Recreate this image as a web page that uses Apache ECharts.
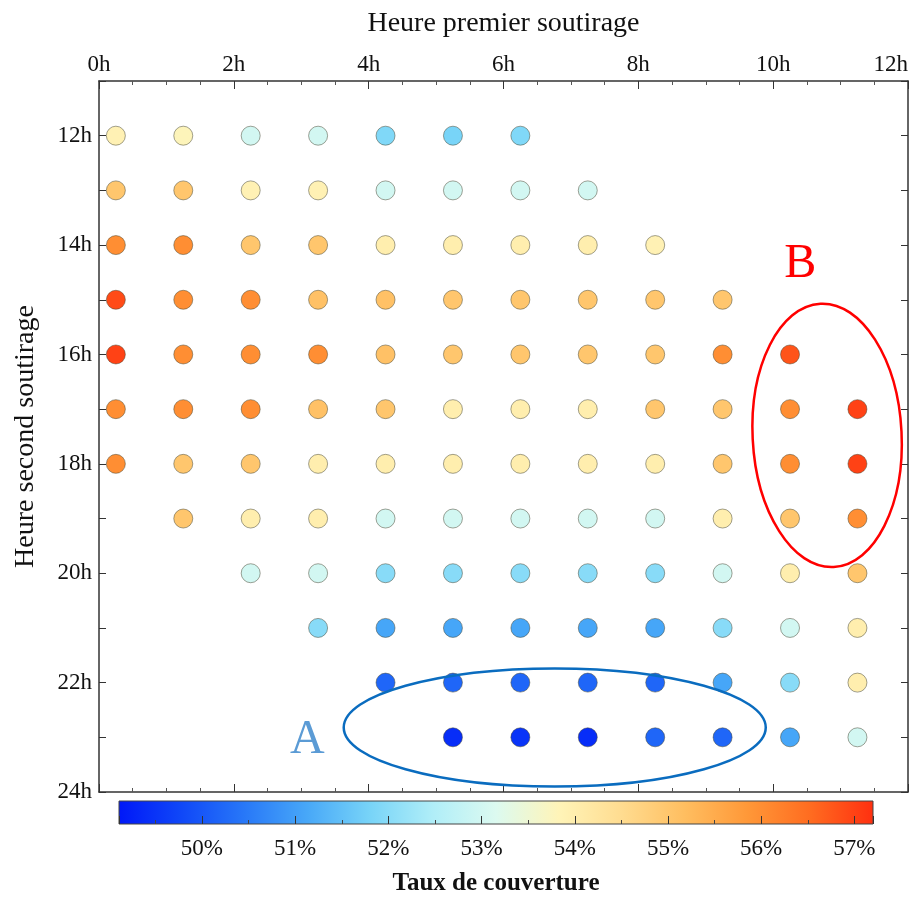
<!DOCTYPE html>
<html>
<head>
<meta charset="utf-8">
<script src="https://cdn.jsdelivr.net/npm/echarts@6/dist/echarts.min.js"></script>
<style>
html,body{margin:0;padding:0;background:#fff;}
#chart{width:919px;height:897px;}
</style>
</head>
<body>
<div id="chart"></div>
<script>
// ---- data ----
const firstHour = [0.25, 1.25, 2.25, 3.25, 4.25, 5.25, 6.25, 7.25, 8.25, 9.25, 10.25, 11.25];
const secondHour = [12, 13, 14, 15, 16, 17, 18, 19, 20, 21, 22, 23];
// coverage (%) per second-drawdown hour, one value per first-drawdown column (null = no point)
const cov12h = [53.9, 53.8, 53.0, 53.0, 51.9, 51.8, 51.9, null, null, null, null, null];
const cov13h = [55.0, 55.0, 53.9, 53.9, 53.0, 53.0, 53.0, 53.0, null, null, null, null];
const cov14h = [56.0, 56.0, 55.0, 55.0, 54.0, 54.0, 54.0, 54.0, 53.9, null, null, null];
const cov15h = [56.9, 56.0, 56.0, 55.1, 55.1, 55.0, 55.0, 55.0, 55.0, 55.0, null, null];
const cov16h = [57.0, 56.0, 56.0, 56.0, 55.1, 55.0, 55.0, 55.0, 55.0, 56.0, 56.8, null];
const cov17h = [56.0, 56.0, 56.0, 55.1, 55.0, 54.0, 54.0, 54.0, 55.0, 55.0, 56.0, 57.0];
const cov18h = [56.0, 55.0, 55.0, 54.0, 54.0, 54.0, 54.0, 54.0, 54.0, 55.0, 56.0, 57.0];
const cov19h = [null, 55.0, 54.0, 54.0, 53.0, 53.0, 53.0, 53.0, 53.0, 54.0, 55.0, 56.0];
const cov20h = [null, null, 53.0, 53.0, 52.0, 52.0, 52.0, 52.0, 52.0, 53.0, 54.0, 55.0];
const cov21h = [null, null, null, 52.0, 51.1, 51.1, 51.1, 51.1, 51.1, 52.0, 53.0, 54.0];
const cov22h = [null, null, null, null, 50.2, 50.2, 50.2, 50.2, 50.2, 51.1, 52.0, 54.0];
const cov23h = [null, null, null, null, null, 49.4, 49.5, 49.4, 50.2, 50.2, 51.1, 53.0];
const coverageRows = [cov12h, cov13h, cov14h, cov15h, cov16h, cov17h, cov18h, cov19h, cov20h, cov21h, cov22h, cov23h];

const xTicks = [0, 2, 4, 6, 8, 10, 12];
const colorbarMin = 49.11, colorbarMax = 57.2;
const colorbarTicks = [50, 51, 52, 53, 54, 55, 56, 57];
const colormap = ['#0018f8', '#1048f8', '#2878f8', '#48a8f8', '#78d4f8', '#b0eef8', '#dcfaf0',
                  '#fff4b8', '#ffdc90', '#ffbe60', '#ff9838', '#ff6c20', '#ff3010'];

// annotations: [centerX(h), centerY(h), radiusX(h), radiusY(h), rotation(rad)]
const ellipseA = [6.76, 22.82, 3.13, 1.08, 0];
const ellipseB = [10.80, 17.48, 1.105, 2.41, 0.05];
const labelA = [3.09, 23.05, 'A'];
const labelB = [10.40, 14.35, 'B'];

// ---- build ----
const points = [];
coverageRows.forEach((row, r) => {
  row.forEach((v, c) => { if (v !== null) points.push([firstHour[c], secondHour[r], v]); });
});

const FONT = 'Liberation Serif';
const axisLineStyle = { color: '#333', width: 1.5 };

const chart = echarts.init(document.getElementById('chart'), null, { renderer: 'canvas' });
chart.setOption({
  animation: false,
  backgroundColor: '#fff',
  grid: [
    { left: 99, top: 81, width: 809, height: 711, containLabel: false },
    { left: 119, top: 801, width: 754, height: 28, show: true, borderColor: '#444', borderWidth: 1, backgroundColor: 'transparent', z: 10 }
  ],
  xAxis: [
    {
      gridIndex: 0, type: 'value', position: 'top', min: 0, max: 12, interval: 2,
      name: 'Heure premier soutirage', nameLocation: 'middle', nameGap: 43,
      nameTextStyle: { fontFamily: FONT, fontSize: 28, color: '#111' },
      axisLine: { show: true, onZero: false, lineStyle: axisLineStyle },
      axisTick: { show: true, inside: true, length: 8, lineStyle: { color: '#333' } },
      minorTick: { show: true, splitNumber: 4, length: 4, lineStyle: { color: '#555' } },
      splitLine: { show: false },
      axisLabel: { fontFamily: FONT, fontSize: 23, color: '#111', margin: 5,
        formatter: v => xTicks.includes(v) ? v + 'h' : '', alignMaxLabel: 'right' }
    },
    {
      gridIndex: 0, type: 'value', position: 'bottom', min: 0, max: 12, interval: 2,
      axisLine: { show: true, onZero: false, lineStyle: axisLineStyle },
      axisTick: { show: true, inside: true, length: 8, lineStyle: { color: '#333' } },
      minorTick: { show: true, splitNumber: 4, length: 4, lineStyle: { color: '#555' } },
      splitLine: { show: false },
      axisLabel: { show: false }
    },
    {
      gridIndex: 1, type: 'value', position: 'bottom', min: colorbarMin, max: colorbarMax, splitNumber: 8, z: 20,
      name: 'Taux de couverture', nameLocation: 'middle', nameGap: 47,
      nameTextStyle: { fontFamily: FONT, fontSize: 25, fontWeight: 'bold', color: '#111' },
      axisLine: { show: false, onZero: false },
      axisTick: { show: true, inside: true, length: 8, lineStyle: { color: '#333' } },
      minorTick: { show: true, splitNumber: 2, length: 4, lineStyle: { color: '#444' } },
      splitLine: { show: false },
      axisLabel: { fontFamily: FONT, fontSize: 23, color: '#111', margin: 13,
        showMinLabel: false, showMaxLabel: false,
        formatter: v => colorbarTicks.includes(Math.round(v * 1000) / 1000) ? v + '%' : '' }
    }
  ],
  yAxis: [
    {
      gridIndex: 0, type: 'value', position: 'left', inverse: true, min: 11, max: 24, interval: 1,
      name: 'Heure second soutirage', nameLocation: 'middle', nameGap: 59, nameRotate: 90,
      nameTextStyle: { fontFamily: FONT, fontSize: 28, color: '#111' },
      axisLine: { show: true, onZero: false, lineStyle: axisLineStyle },
      axisTick: { show: true, inside: true, length: 7, lineStyle: { color: '#333' } },
      splitLine: { show: false },
      axisLabel: { fontFamily: FONT, fontSize: 23, color: '#111', margin: 7,
        formatter: v => (v % 2 === 0) ? v + 'h' : '' }
    },
    {
      gridIndex: 0, type: 'value', position: 'right', inverse: true, min: 11, max: 24, interval: 1,
      axisLine: { show: true, onZero: false, lineStyle: axisLineStyle },
      axisTick: { show: true, inside: true, length: 7, lineStyle: { color: '#333' } },
      splitLine: { show: false },
      axisLabel: { show: false }
    },
    { gridIndex: 1, type: 'value', min: 0, max: 1, show: false }
  ],
  visualMap: {
    type: 'continuous', show: false, seriesIndex: 0, dimension: 2,
    min: colorbarMin, max: colorbarMax, inRange: { color: colormap }
  },
  series: [
    {
      type: 'scatter', xAxisIndex: 0, yAxisIndex: 0, data: points, symbolSize: 19,
      itemStyle: { borderColor: 'rgba(70,70,50,0.5)', borderWidth: 1, opacity: 1 }
    },
    {
      type: 'custom', xAxisIndex: 2, yAxisIndex: 2, z: 1, silent: true,
      data: [[colorbarMin, colorbarMax]],
      renderItem: function (params, api) {
        const p0 = api.coord([api.value(0), 1]);
        const p1 = api.coord([api.value(1), 0]);
        const stops = colormap.map((c, i) => ({ offset: i / (colormap.length - 1), color: c }));
        return {
          type: 'rect',
          shape: { x: p0[0], y: p0[1], width: p1[0] - p0[0], height: p1[1] - p0[1] },
          style: { fill: new echarts.graphic.LinearGradient(0, 0, 1, 0, stops) }
        };
      }
    },
    {
      type: 'custom', xAxisIndex: 0, yAxisIndex: 0, silent: true, z: 5,
      data: [ellipseA, ellipseB],
      renderItem: function (params, api) {
        const c = api.coord([api.value(0), api.value(1)]);
        const s = api.size([api.value(2), api.value(3)]);
        const color = params.dataIndex === 0 ? '#0a6cbf' : '#ff0000';
        return {
          type: 'ellipse', x: c[0], y: c[1], rotation: api.value(4),
          shape: { cx: 0, cy: 0, rx: s[0], ry: s[1] },
          style: { fill: 'none', stroke: color, lineWidth: 2.5 }
        };
      }
    },
    {
      type: 'custom', xAxisIndex: 0, yAxisIndex: 0, silent: true, z: 5,
      data: [labelA, labelB],
      renderItem: function (params, api) {
        const c = api.coord([api.value(0), api.value(1)]);
        const color = params.dataIndex === 0 ? '#5b9bd5' : '#ff0000';
        return {
          type: 'text', x: c[0], y: c[1],
          style: { text: (params.dataIndex === 0 ? labelA : labelB)[2], fill: color,
            font: '48px "Liberation Serif"', align: 'center', verticalAlign: 'middle' }
        };
      }
    }
  ]
});
</script>
</body>
</html>
